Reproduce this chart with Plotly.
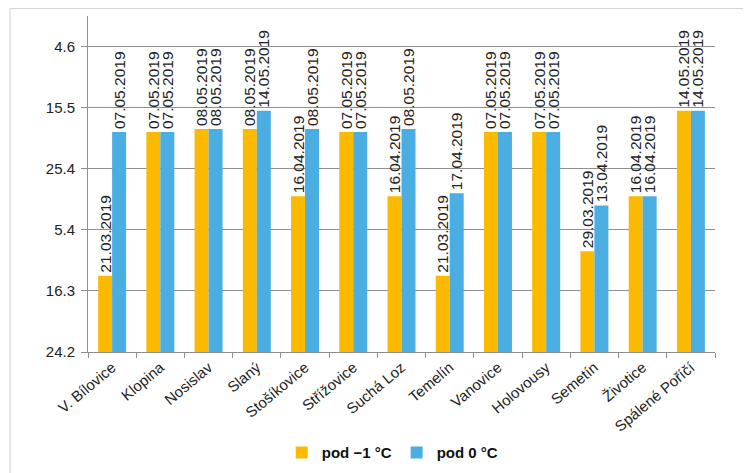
import plotly.graph_objects as go
from datetime import datetime

categories = ["V. Bílovice", "Klopina", "Nosislav", "Slaný", "Stošíkovice", "Střížovice",
              "Suchá Loz", "Temelín", "Vanovice", "Holovousy", "Semetín", "Životice",
              "Spálené Poříčí"]
pod_minus1 = ["21.03.2019", "07.05.2019", "08.05.2019", "08.05.2019", "16.04.2019", "07.05.2019",
              "16.04.2019", "21.03.2019", "07.05.2019", "07.05.2019", "29.03.2019", "16.04.2019",
              "14.05.2019"]
pod_0 = ["07.05.2019", "07.05.2019", "08.05.2019", "14.05.2019", "08.05.2019", "07.05.2019",
         "08.05.2019", "17.04.2019", "07.05.2019", "07.05.2019", "13.04.2019", "16.04.2019",
         "14.05.2019"]
series_names = ["pod −1 °C", "pod 0 °C"]
axis_start = "2019-02-24"
axis_end = "2019-06-14"

ORANGE = "#FBBA00"
BLUE = "#4BAEE2"
FONT = "Liberation Sans, Arial, sans-serif"

base_dt = datetime.strptime(axis_start, "%Y-%m-%d")


def durations(dates):
    return [(datetime.strptime(d, "%d.%m.%Y") - base_dt).total_seconds() * 1000 for d in dates]


fig = go.Figure()
for name, vals, color in [(series_names[0], pod_minus1, ORANGE), (series_names[1], pod_0, BLUE)]:
    fig.add_trace(go.Bar(
        x=categories, y=durations(vals), base=axis_start, name=name,
        marker=dict(color=color, line=dict(width=0)),
        text=vals, textposition="outside", textangle=-90,
        textfont=dict(family=FONT, size=15.5, color="#222"),
        cliponaxis=False,
    ))

fig.update_layout(
    width=751, height=473,
    margin=dict(l=80, r=44, t=8, b=129, autoexpand=False),
    paper_bgcolor="white", plot_bgcolor="white",
    barmode="group", bargap=0.42, bargroupgap=0,
    font=dict(family=FONT, size=14, color="#222"),
    showlegend=True,
    legend=dict(orientation="h", x=0.486, xanchor="center", y=-0.30, yanchor="middle",
                font=dict(family=FONT, size=15, color="#111", weight="bold"),
                itemsizing="constant", traceorder="normal"),
    uniformtext=dict(minsize=13, mode="show"),
)
fig.update_yaxes(
    type="date", range=[axis_start, axis_end], automargin=False,
    tick0=axis_start, dtick=20 * 86400000, tickformat="%-d.%-m",
    showgrid=True, gridcolor="#8f8f8f", gridwidth=1,
    showline=True, linecolor="#8f8f8f", linewidth=1,
    ticks="outside", ticklen=6, tickcolor="#8f8f8f", ticklabelstandoff=3,
    tickfont=dict(family=FONT, size=15, color="#222"),
    zeroline=False,
)
fig.update_xaxes(
    showline=True, linecolor="#8f8f8f", linewidth=1, automargin=False,
    ticks="outside", ticklen=5, tickcolor="#8f8f8f", tickson="boundaries",
    tickangle=-40, tickfont=dict(family=FONT, size=15, color="#222"),
    showgrid=False,
)
fig.add_shape(type="rect", xref="paper", yref="paper",
              x0=-0.1244, x1=1.0494, y0=-0.45, y1=1.022,
              line=dict(color="#d0d0d0", width=1), fillcolor="rgba(0,0,0,0)", layer="below")

fig.write_html("out.html")
